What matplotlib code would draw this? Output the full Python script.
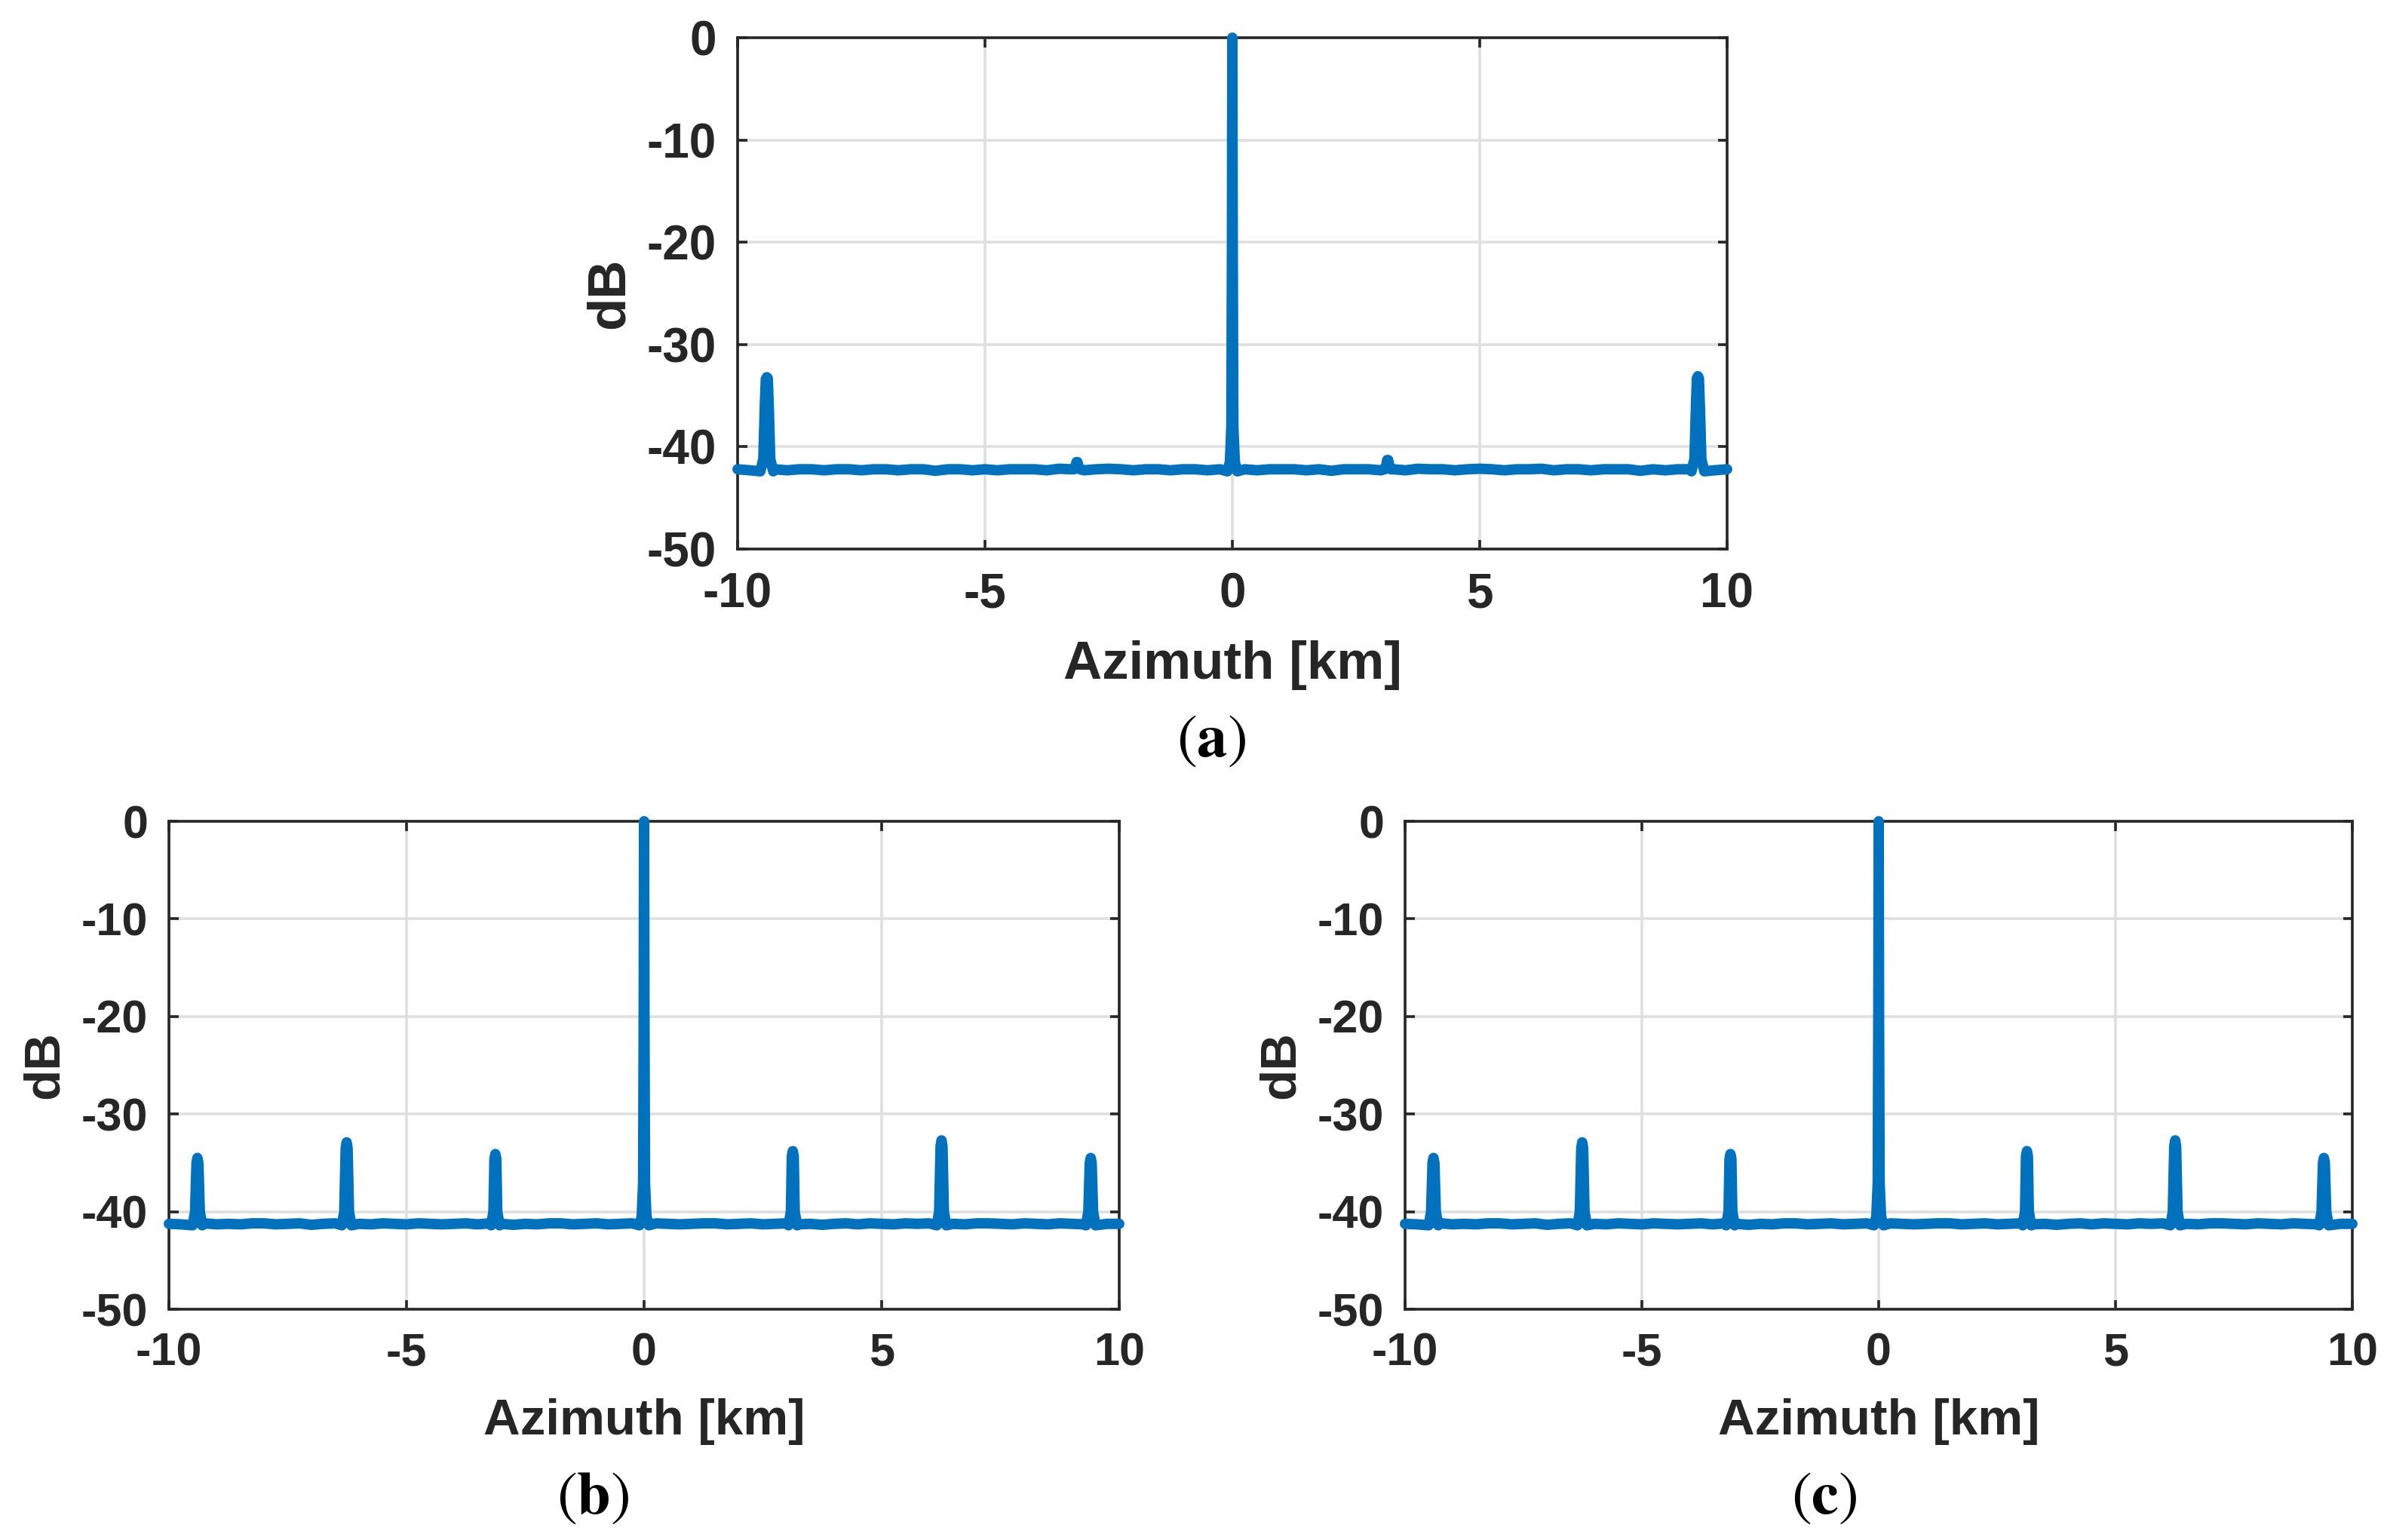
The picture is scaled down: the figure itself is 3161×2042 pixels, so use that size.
import numpy as np
import matplotlib
matplotlib.use("Agg")
import matplotlib.pyplot as plt

plt.rcParams['font.family'] = ['Liberation Sans', 'DejaVu Sans']
plt.rcParams['mathtext.fontset'] = 'stix'
plt.rcParams['axes.unicode_minus'] = False

# ---- data ----
AZ_FLOOR = np.linspace(-10, 10, 81)   # km, sample positions of the noise floor

FLOOR_A = [-42.2, -42.3, -42.2, -42.2, -42.3, -42.2, -42.2, -42.3, -42.2, -42.2,
           -42.3, -42.2, -42.2, -42.3, -42.2, -42.2, -42.35, -42.2, -42.2, -42.3,
           -42.2, -42.3, -42.2, -42.2, -42.2, -42.3, -42.15, -42.2, -42.3, -42.2,
           -42.15, -42.2, -42.3, -42.2, -42.2, -42.3, -42.2, -42.2, -42.3, -42.2,
           -42.2, -42.2, -42.3, -42.2, -42.2, -42.2, -42.3, -42.2, -42.35, -42.2,
           -42.2, -42.2, -42.3, -42.2, -42.3, -42.15, -42.2, -42.2, -42.3, -42.2,
           -42.15, -42.2, -42.3, -42.2, -42.2, -42.15, -42.3, -42.2, -42.2, -42.3,
           -42.2, -42.2, -42.2, -42.35, -42.2, -42.3, -42.2, -42.2, -42.2, -42.3,
           -42.2]

FLOOR_BC = [-41.25, -41.3, -41.2, -41.2, -41.3, -41.25, -41.3, -41.2, -41.2, -41.3,
            -41.25, -41.2, -41.35, -41.25, -41.2, -41.3, -41.25, -41.3, -41.2, -41.25,
            -41.3, -41.2, -41.25, -41.3, -41.25, -41.2, -41.3, -41.2, -41.25, -41.35,
            -41.25, -41.3, -41.2, -41.2, -41.3, -41.25, -41.2, -41.3, -41.25, -41.2,
            -41.25, -41.2, -41.25, -41.3, -41.25, -41.2, -41.2, -41.3, -41.25, -41.2,
            -41.3, -41.25, -41.2, -41.3, -41.25, -41.35, -41.25, -41.2, -41.3, -41.2,
            -41.25, -41.3, -41.2, -41.25, -41.2, -41.3, -41.25, -41.3, -41.2, -41.2,
            -41.25, -41.3, -41.2, -41.25, -41.3, -41.2, -41.25, -41.3, -41.2, -41.25,
            -41.25]

# peak profiles (azimuth km, dB)
PEAKS_A_X = [
    [-9.54, -9.48, -9.45, -9.43, -9.41, -9.39, -9.37, -9.34, -9.28],
    [-3.20, -3.17, -3.15, -3.13, -3.11, -3.08],
    [-0.10, -0.05, -0.02, -0.008, 0.0, 0.008, 0.02, 0.05, 0.10],
    [3.08, 3.11, 3.13, 3.15, 3.17, 3.20],
    [9.28, 9.34, 9.37, 9.39, 9.41, 9.43, 9.45, 9.48, 9.54],
]
PEAKS_A_Y = [
    [-42.4, -41.2, -36.0, -33.4, -33.2, -33.3, -36.0, -41.2, -42.4],
    [-42.2, -41.9, -41.5, -41.5, -41.9, -42.2],
    [-42.4, -41.5, -38.0, -20.0, 0.0, -20.0, -38.0, -41.5, -42.4],
    [-42.2, -41.8, -41.3, -41.3, -41.8, -42.2],
    [-42.4, -41.2, -36.0, -33.3, -33.1, -33.3, -36.0, -41.2, -42.4],
]

PEAKS_BC_X = [
    [-9.50, -9.45, -9.42, -9.40, -9.38, -9.35, -9.30],
    [-6.36, -6.31, -6.28, -6.26, -6.24, -6.21, -6.16],
    [-3.22, -3.17, -3.15, -3.13, -3.11, -3.09, -3.04],
    [-0.10, -0.05, -0.02, -0.008, 0.0, 0.008, 0.02, 0.05, 0.10],
    [3.04, 3.09, 3.11, 3.13, 3.15, 3.17, 3.22],
    [6.16, 6.21, 6.24, 6.26, 6.28, 6.31, 6.36],
    [9.30, 9.35, 9.38, 9.40, 9.42, 9.45, 9.50],
]
PEAKS_BC_Y = [
    [-41.4, -40.0, -35.0, -34.5, -35.0, -40.0, -41.4],
    [-41.4, -40.0, -33.5, -32.9, -33.5, -40.0, -41.4],
    [-41.4, -40.0, -34.6, -34.1, -34.6, -40.0, -41.4],
    [-41.4, -40.5, -37.0, -20.0, 0.0, -20.0, -37.0, -40.5, -41.4],
    [-41.4, -40.0, -34.3, -33.8, -34.3, -40.0, -41.4],
    [-41.4, -40.0, -33.3, -32.7, -33.3, -40.0, -41.4],
    [-41.4, -40.0, -35.0, -34.5, -35.0, -40.0, -41.4],
]

X_TICKS = [-10, -5, 0, 5, 10]
Y_TICKS = [-50, -40, -30, -20, -10, 0]


def build_curve(floor_y, peaks_x, peaks_y):
    pts = list(zip(AZ_FLOOR, floor_y))
    for px, py in zip(peaks_x, peaks_y):
        pts = [p for p in pts if p[0] < px[0] or p[0] > px[-1]]
        pts += list(zip(px, py))
    pts.sort(key=lambda p: p[0])
    return np.array([p[0] for p in pts]), np.array([p[1] for p in pts])


W, H = 3161, 2042
fig = plt.figure(figsize=(W / 100, H / 100), dpi=100)


def px_axes(left, top, right, bottom):
    return fig.add_axes([left / W, 1 - bottom / H, (right - left) / W, (bottom - top) / H])


def style(ax, tick_fs, label_fs):
    ax.set_xlim(-10, 10)
    ax.set_ylim(-50, 0)
    ax.set_xticks(X_TICKS)
    ax.set_yticks(Y_TICKS)
    ax.grid(True, color='#dfdfdf', linewidth=2.6)
    ax.set_axisbelow(True)
    for s in ax.spines.values():
        s.set_linewidth(2.6)
        s.set_color('#262626')
        s.set_zorder(3)
    ax.tick_params(direction='in', length=9, width=2.6, color='#262626',
                   top=True, right=True, labelsize=tick_fs, labelcolor='#262626')
    ax.tick_params(axis='x', pad=22)
    ax.tick_params(axis='y', pad=20)
    for lab in ax.get_xticklabels() + ax.get_yticklabels():
        lab.set_fontweight('bold')
    ax.set_xlabel('Azimuth [km]', fontsize=label_fs, fontweight='bold',
                  color='#262626', labelpad=22)
    ax.set_ylabel('dB', fontsize=label_fs, fontweight='bold',
                  color='#262626', labelpad=12)


ax_a = px_axes(978, 50, 2290, 728)
ax_b = px_axes(224, 1089, 1484, 1736)
ax_c = px_axes(1863, 1089, 3119, 1736)

xa, ya = build_curve(FLOOR_A, PEAKS_A_X, PEAKS_A_Y)
xb, yb = build_curve(FLOOR_BC, PEAKS_BC_X, PEAKS_BC_Y)

ax_a.plot(xa, ya, color='#0072BD', linewidth=10, clip_on=False,
          solid_capstyle='round', solid_joinstyle='round', zorder=4)
style(ax_a, 46, 51)

for ax in (ax_b, ax_c):
    ax.plot(xb, yb, color='#0072BD', linewidth=10, clip_on=False,
            solid_capstyle='round', solid_joinstyle='round', zorder=4)
    style(ax, 44, 48.5)

# captions
for cx, cy, letter in [(1606, 984, 'a'), (786, 1988, 'b'), (2419, 1988, 'c')]:
    fig.text(cx / W, 1 - cy / H, r'($\mathbf{%s}$)' % letter, fontsize=58,
             family='STIXGeneral', ha='center', va='center')

fig.savefig('out.png', dpi=100, facecolor='white')
